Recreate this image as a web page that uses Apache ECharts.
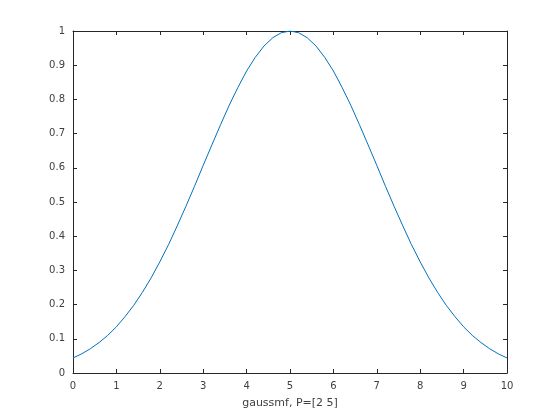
<!DOCTYPE html>
<html><head><meta charset="utf-8">
<script src="https://cdn.jsdelivr.net/npm/echarts@6/dist/echarts.min.js"></script>
<style>html,body{margin:0;padding:0;background:#fff}#c{width:560px;height:420px}</style>
</head><body><div id="c"></div>
<script>
var xValues = [0,0.2,0.4,0.6,0.8,1,1.2,1.4,1.6,1.8,2,2.2,2.4,2.6,2.8,3,3.2,3.4,3.6,3.8,4,4.2,4.4,4.6,4.8,5,
  5.2,5.4,5.6,5.8,6,6.2,6.4,6.6,6.8,7,7.2,7.4,7.6,7.8,8,8.2,8.4,8.6,8.8,9,9.2,9.4,9.6,9.8,10];
var yValues = [0.044,0.056,0.071,0.089,0.110,0.135,0.165,0.198,0.236,0.278,0.325,0.375,0.430,0.487,0.546,0.607,0.667,0.726,0.783,0.835,0.883,0.923,0.956,0.980,0.995,1.000,
  0.995,0.980,0.956,0.923,0.883,0.835,0.783,0.726,0.667,0.607,0.546,0.487,0.430,0.375,0.325,0.278,0.236,0.198,0.165,0.135,0.110,0.089,0.071,0.056,0.044];
var xTitle = 'gaussmf, P=[2 5]';

var data = xValues.map(function(x,i){return [x,yValues[i]];});
var txt = '#404040', ax = '#262626';
var font = 'DejaVu Sans';
var chart = echarts.init(document.getElementById('c'), null, {renderer:'canvas'});
function mkX(pos, labels){
  return {type:'value', position:pos, min:0, max:10, interval:1,
    axisLine:{show:true, onZero:false, lineStyle:{color:ax, width:1}},
    axisTick:{show:true, inside:true, length:4, lineStyle:{color:ax}},
    axisLabel:{show:labels, color:txt, fontFamily:font, fontSize:10, margin:8},
    splitLine:{show:false},
    name: labels ? xTitle : '', nameLocation:'middle', nameGap:25,
    nameTextStyle:{color:txt, fontFamily:font, fontSize:11}};
}
function mkY(pos, labels){
  return {type:'value', position:pos, min:0, max:1, interval:0.1,
    axisLine:{show:true, onZero:false, lineStyle:{color:ax, width:1}},
    axisTick:{show:true, inside:true, length:4, lineStyle:{color:ax}},
    axisLabel:{show:labels, color:txt, fontFamily:font, fontSize:10, margin:8,
      formatter:function(v){return String(Math.round(v*10)/10);}},
    splitLine:{show:false}};
}
chart.setOption({
  animation:false,
  grid:{left:73, right:53, top:31, bottom:47, containLabel:false},
  xAxis:[mkX('bottom', true), mkX('top', false)],
  yAxis:[mkY('left', true), mkY('right', false)],
  series:[{type:'line', data:data, showSymbol:false, smooth:false,
    lineStyle:{color:'#0072BD', width:1}, xAxisIndex:0, yAxisIndex:0}]
});
</script></body></html>
